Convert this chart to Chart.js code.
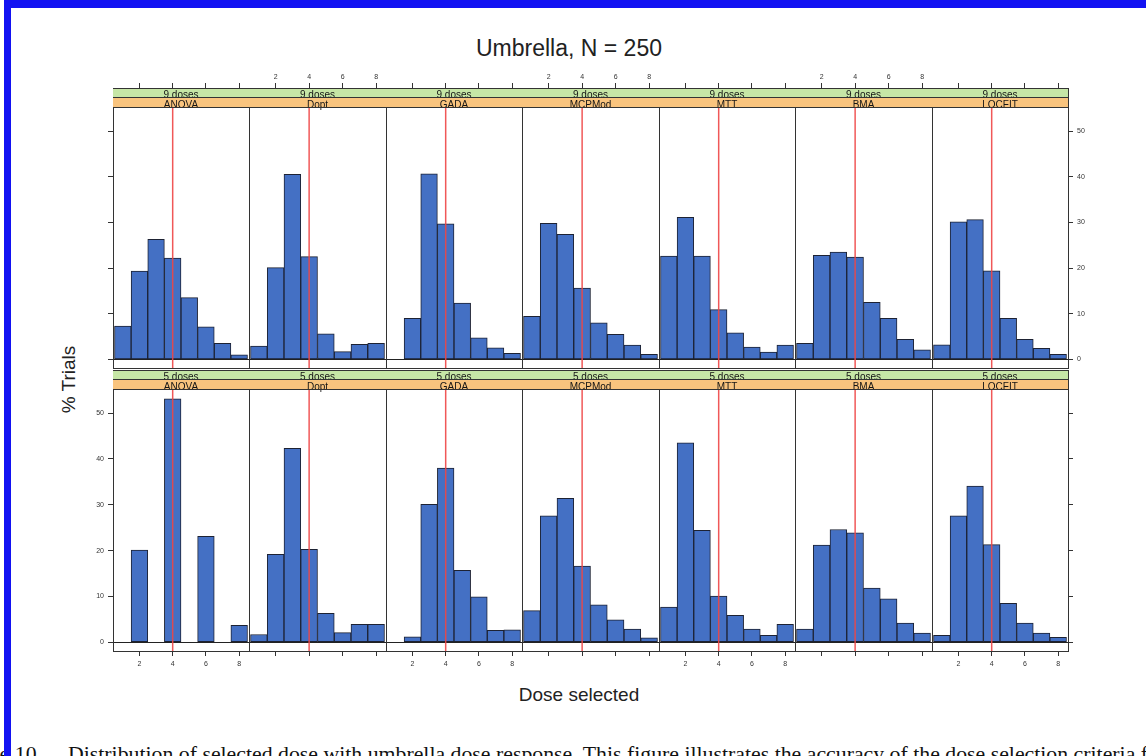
<!DOCTYPE html>
<html>
<head>
<meta charset="utf-8">
<script src="https://cdn.jsdelivr.net/npm/chart.js@4.4.1/dist/chart.umd.min.js"></script>
<style>
html,body{margin:0;padding:0;background:#fff;}
#wrap{position:relative;width:1146px;height:756px;overflow:hidden;background:#fff;font-family:"Liberation Sans",Arial,sans-serif;}
#wrap canvas{position:absolute;}
.lbl{position:absolute;white-space:nowrap;color:#222;line-height:1;}
#title{left:269px;top:37px;width:600px;text-align:center;font-size:23px;}
#xlab{left:379px;top:685px;width:400px;text-align:center;font-size:19px;}
#ylab{left:-32px;top:370px;width:200px;text-align:center;font-size:19px;transform:rotate(-90deg);transform-origin:50% 50%;}
.cap{position:absolute;white-space:nowrap;color:#111;font-family:"Liberation Serif","Times New Roman",serif;font-size:21.8px;line-height:1;top:744px;}
#capA{right:1104px;}
#capB{left:68px;}
.frame{position:absolute;background:#1212f2;z-index:5;}
</style>
</head>
<body>
<div id="wrap">
  <div id="title" class="lbl">Umbrella, N = 250</div>
  <div id="xlab" class="lbl">Dose selected</div>
  <div id="ylab" class="lbl">% Trials</div>
  <div id="capA" class="cap">Figure 10.</div>
  <div id="capB" class="cap">Distribution of selected dose with umbrella dose response. This figure illustrates the accuracy of the dose selection criteria for</div>
  <div class="frame" style="left:4px;top:0;width:1142px;height:8px;"></div>
  <div class="frame" style="left:4px;top:0;width:7px;height:756px;"></div>
</div>
<script>
// ---------------- data ----------------
const doseLevels = [1, 2, 3, 4, 5, 6, 7, 8];
const methods = ['ANOVA', 'Dopt', 'GADA', 'MCPMod', 'MTT', 'BMA', 'LOCFIT'];
const designLabels = ['9 doses', '5 doses'];
const targetDose = 4;
const xTickValues = [2, 4, 6, 8];
const yTickValues = [0, 10, 20, 30, 40, 50];

// % of trials selecting each dose, 9-dose design
const anova9  = [7.3, 19.3, 26.3, 22.2, 13.5, 7.1, 3.5, 1.0];
const dopt9   = [2.9, 20.1, 40.5, 22.5, 5.6, 1.7, 3.3, 3.5];
const gada9   = [0, 9.0, 40.6, 29.7, 12.3, 4.7, 2.5, 1.3];
const mcpmod9 = [9.4, 29.8, 27.4, 15.6, 8.0, 5.5, 3.1, 1.1];
const mtt9    = [22.6, 31.1, 22.6, 10.9, 5.8, 2.7, 1.6, 3.1];
const bma9    = [3.5, 22.8, 23.5, 22.4, 12.5, 9.0, 4.4, 2.1];
const locfit9 = [3.2, 30.1, 30.6, 19.4, 9.0, 4.4, 2.4, 1.1];

// % of trials selecting each dose, 5-dose design
const anova5  = [0, 20.1, 0, 53.1, 0, 23.1, 0, 3.7];
const dopt5   = [1.7, 19.2, 42.3, 20.3, 6.3, 2.1, 3.9, 3.9];
const gada5   = [0, 1.2, 30.1, 38.0, 15.7, 9.9, 2.6, 2.7];
const mcpmod5 = [6.9, 27.6, 31.4, 16.6, 8.2, 4.9, 2.9, 1.0];
const mtt5    = [7.7, 43.5, 24.4, 10.1, 5.9, 2.9, 1.5, 3.9];
const bma5    = [2.9, 21.2, 24.6, 23.9, 11.8, 9.5, 4.2, 2.0];
const locfit5 = [1.5, 27.6, 34.1, 21.3, 8.5, 4.2, 2.0, 1.1];

const panelValues = [
  [anova9, dopt9, gada9, mcpmod9, mtt9, bma9, locfit9],
  [anova5, dopt5, gada5, mcpmod5, mtt5, bma5, locfit5]
];

// ---------------- layout ----------------
const PX0 = 112.7, PW = 136.5;
const ROW_TOP = [88, 370];
const AREA_H = [280, 281];
const STRIP_H = 19, GREEN_H = 9;
const MX = 40, MY = 30;
const X_MIN = 0.41, X_MAX = 8.59;
const Y_MIN = -1.9, Y_PANEL_MAX = 55.26;

const BAR_FILL = '#4470C4';
const BAR_EDGE = '#1d2233';
const AXIS_COL = '#333333';
const FONT_FAMILY = '"Liberation Sans", Arial, sans-serif';

const stripPlugin = {
  id: 'strip',
  afterDatasetsDraw(chart, args, opts) {
    const ctx = chart.ctx;
    const a = chart.chartArea;
    const w = a.right - a.left;
    ctx.save();
    ctx.fillStyle = '#C6E6A6';
    ctx.fillRect(a.left, a.top, w, GREEN_H);
    ctx.fillStyle = '#F9C47E';
    ctx.fillRect(a.left, a.top + GREEN_H, w, STRIP_H - GREEN_H);
    ctx.fillStyle = '#151515';
    ctx.font = '10px ' + FONT_FAMILY;
    ctx.textAlign = 'center';
    ctx.textBaseline = 'alphabetic';
    const cx = (a.left + a.right) / 2;
    ctx.fillText(opts.top, cx, a.top + GREEN_H + 0.5);
    ctx.fillText(opts.bottom, cx, a.top + STRIP_H + 0.5);
    ctx.strokeStyle = AXIS_COL;
    ctx.lineWidth = 1;
    ctx.beginPath();
    ctx.moveTo(a.left, a.top + GREEN_H + 0.5);
    ctx.lineTo(a.right, a.top + GREEN_H + 0.5);
    ctx.moveTo(a.left, a.top + STRIP_H + 0.5);
    ctx.lineTo(a.right, a.top + STRIP_H + 0.5);
    ctx.moveTo(a.left, a.top + 0.5);
    ctx.lineTo(a.right, a.top + 0.5);
    ctx.stroke();
    ctx.restore();
  }
};

const wrap = document.getElementById('wrap');

function tickFont() { return { family: FONT_FAMILY, size: 7 }; }

for (let r = 0; r < 2; r++) {
  for (let c = 0; c < methods.length; c++) {
    const isTop = r === 0;
    const left = Math.round(PX0 + c * PW);
    const right = Math.round(PX0 + (c + 1) * PW);
    const cw = right - left;
    const ah = AREA_H[r];
    const yMax = Y_MIN + (Y_PANEL_MAX - Y_MIN) * ah / (ah - STRIP_H);

    const cv = document.createElement('canvas');
    cv.width = cw + 2 * MX;
    cv.height = ah + 2 * MY;
    cv.style.left = (left - MX) + 'px';
    cv.style.top = (ROW_TOP[r] - MY) + 'px';
    cv.style.width = cv.width + 'px';
    cv.style.height = cv.height + 'px';
    wrap.appendChild(cv);

    const vals = panelValues[r][c];
    const xTicks = s => { s.ticks = xTickValues.map(v => ({ value: v })); };
    const yTicks = s => { s.ticks = yTickValues.map(v => ({ value: v })); };

    new Chart(cv, {
      type: 'bar',
      data: {
        datasets: [
          {
            type: 'line',
            data: [{ x: targetDose, y: Y_MIN }, { x: targetDose, y: Y_PANEL_MAX }],
            borderColor: 'rgba(238,70,70,0.9)',
            borderWidth: 1.5,
            pointRadius: 0,
            order: 0
          },
          {
            type: 'bar',
            data: vals.map((v, i) => ({ x: doseLevels[i], y: v })),
            backgroundColor: BAR_FILL,
            borderColor: BAR_EDGE,
            borderWidth: 1,
            borderSkipped: false,
            barPercentage: 1,
            categoryPercentage: 1,
            order: 1
          }
        ]
      },
      options: {
        responsive: false,
        maintainAspectRatio: false,
        animation: false,
        devicePixelRatio: 1,
        events: [],
        layout: { padding: 0, autoPadding: false },
        plugins: {
          legend: { display: false },
          tooltip: { enabled: false },
          strip: { top: designLabels[r], bottom: methods[c] }
        },
        scales: {
          x: {
            type: 'linear', position: 'bottom', min: X_MIN, max: X_MAX, offset: false,
            afterFit: s => { s.height = MY; },
            afterBuildTicks: xTicks,
            grid: { drawOnChartArea: false, drawTicks: !isTop, tickLength: 5, tickColor: AXIS_COL, offset: false },
            border: { display: true, color: AXIS_COL, width: 1 },
            ticks: { display: !isTop && c % 2 === 0, font: tickFont(), color: '#333', padding: 4, maxRotation: 0, autoSkip: false }
          },
          x2: {
            type: 'linear', position: 'top', min: X_MIN, max: X_MAX, offset: false,
            afterFit: s => { s.height = MY; },
            afterBuildTicks: xTicks,
            grid: { drawOnChartArea: false, drawTicks: isTop, tickLength: 5, tickColor: AXIS_COL, offset: false },
            border: { display: true, color: AXIS_COL, width: 1 },
            ticks: { display: isTop && c % 2 === 1, font: tickFont(), color: '#333', padding: 2, maxRotation: 0, autoSkip: false }
          },
          y: {
            type: 'linear', position: 'left', min: Y_MIN, max: yMax,
            afterFit: s => { s.width = MX; },
            afterBuildTicks: yTicks,
            grid: {
              drawOnChartArea: true,
              color: ctx => (ctx.tick && ctx.tick.value === 0) ? '#222' : 'rgba(0,0,0,0)',
              drawTicks: c === 0, tickLength: 5, tickColor: AXIS_COL
            },
            border: { display: true, color: AXIS_COL, width: 1 },
            ticks: { display: c === 0 && !isTop, font: tickFont(), color: '#333', padding: 4, autoSkip: false }
          },
          y2: {
            type: 'linear', position: 'right', min: Y_MIN, max: yMax,
            afterFit: s => { s.width = MX; },
            afterBuildTicks: yTicks,
            grid: { drawOnChartArea: false, drawTicks: c === methods.length - 1, tickLength: 5, tickColor: AXIS_COL },
            border: { display: true, color: AXIS_COL, width: 1 },
            ticks: { display: c === methods.length - 1 && isTop, font: tickFont(), color: '#333', padding: 4, autoSkip: false }
          }
        }
      },
      plugins: [stripPlugin]
    });
  }
}
</script>
</body>
</html>
